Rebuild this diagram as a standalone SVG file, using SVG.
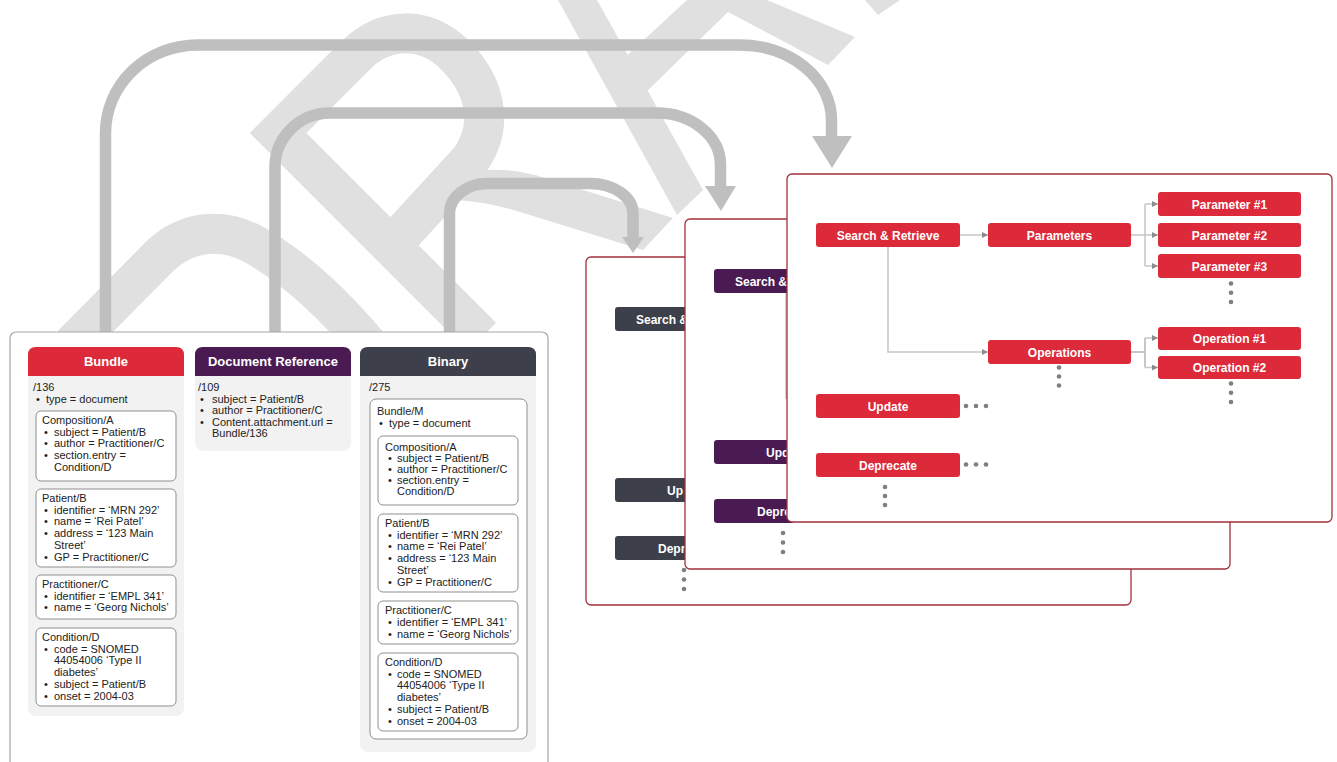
<svg xmlns="http://www.w3.org/2000/svg" width="1337" height="762" viewBox="0 0 1337 762">
<defs>
<style>
.wm{fill:none;stroke:#e0e0e0;stroke-linejoin:miter;stroke-width:40}
.wmf{fill:#e0e0e0}
.big{fill:none;stroke:#bfbfbf;stroke-width:11.5}
.bighead{fill:#bfbfbf}
.panel{fill:#fff;stroke:#a1303b;stroke-width:1.3}
.lp{fill:#fff;stroke:#a6a6a6;stroke-width:1.2}
.colbg{fill:#f2f2f2}
.card{fill:#fff;stroke:#8f8f8f;stroke-width:1}
.t{font-family:"Liberation Sans",Arial,sans-serif;font-size:11px;fill:#222}
.hd{font-family:"Liberation Sans",Arial,sans-serif;font-size:13px;font-weight:bold;fill:#fff;text-anchor:middle}
.bx{font-family:"Liberation Sans",Arial,sans-serif;font-size:12px;font-weight:bold;fill:#fff}
.c{text-anchor:middle}
.red{fill:#dc2a3a}
.pur{fill:#4a1b53}
.drk{fill:#3d404b}
.ln{fill:none;stroke:#c6c6c6;stroke-width:1.5}
.dot{fill:#7f7f7f}
</style>
<marker id="ah" viewBox="0 0 6 6" refX="6" refY="3" markerWidth="6" markerHeight="6" markerUnits="userSpaceOnUse" orient="auto">
<path d="M0,0 L6,3 L0,6 Z" fill="#8c8c8c"/>
</marker>
</defs>

<g id="watermark">
<path class="wm" d="M72,345 L160,256 C185,232 220,226 255,245 C295,268 330,300 368,345"/>
<path class="wm" d="M482,337 L278,133 L355,56 C385,26 425,26 455,55 C485,85 495,125 470,160 L391,246"/>
<path class="wmf" d="M458,174 C490,166 520,170 545,178 L673,218 L643,250 L520,212 C495,204 470,200 445,200 Z"/>
<polygon class="wmf" points="558,0 597,0 703,190 677,215"/>
<polygon class="wmf" points="620,62 687,0 767,0 855,37 828,65 728,12 640,98"/>
<polygon class="wmf" points="865,0 878,15 900,0"/>
</g>

<g id="connectors">
<path class="big" d="M105.5,333 V133 A92,88 0 0 1 197.5,45 H740 A91.5,75 0 0 1 831.5,120 V137"/>
<polygon class="bighead" points="812,136 852,136 832,168"/>
<path class="big" d="M275,333 V167 A55,54 0 0 1 330,113 H657 A63.5,52 0 0 1 720.5,165 V187"/>
<polygon class="bighead" points="705,186 736,186 721,211"/>
<path class="big" d="M449.5,333 V213 A38,30 0 0 1 487.5,183.5 H590 A43,30 0 0 1 633,213.5 V238"/>
<polygon class="bighead" points="622,237 644,237 633,253"/>
</g>

<g id="resources-panel">
<rect class="lp" x="10" y="332" width="538" height="445" rx="6"/>

<g id="bundle">
<rect class="colbg" x="28" y="347" width="156" height="369" rx="8"/>
<path class="red" d="M28,376 V355 Q28,347 36,347 H176 Q184,347 184,355 V376 Z"/>
<text class="hd" x="106" y="366">Bundle</text>
<text class="t" x="33" y="391">/136</text>
<text class="t" y="402.5"><tspan x="36">•</tspan><tspan x="46">type = document</tspan></text>
<rect class="card" x="36" y="411" width="140" height="70" rx="5"/>
<text class="t" x="42" y="424">Composition/A</text>
<text class="t" y="435.7"><tspan x="44">•</tspan><tspan x="54">subject = Patient/B</tspan></text>
<text class="t" y="447.4"><tspan x="44">•</tspan><tspan x="54">author = Practitioner/C</tspan></text>
<text class="t" y="459.1"><tspan x="44">•</tspan><tspan x="54">section.entry =</tspan></text>
<text class="t" x="54" y="470.8">Condition/D</text>
<rect class="card" x="36" y="489" width="140" height="78" rx="5"/>
<text class="t" x="42" y="502">Patient/B</text>
<text class="t" y="513.7"><tspan x="44">•</tspan><tspan x="54">identifier = ‘MRN 292’</tspan></text>
<text class="t" y="525.4"><tspan x="44">•</tspan><tspan x="54">name = ‘Rei Patel’</tspan></text>
<text class="t" y="537.1"><tspan x="44">•</tspan><tspan x="54">address = ‘123 Main</tspan></text>
<text class="t" x="54" y="548.8">Street’</text>
<text class="t" y="560.5"><tspan x="44">•</tspan><tspan x="54">GP = Practitioner/C</tspan></text>
<rect class="card" x="36" y="575" width="140" height="44" rx="5"/>
<text class="t" x="42" y="587.5">Practitioner/C</text>
<text class="t" y="599.5"><tspan x="44">•</tspan><tspan x="54">identifier = ‘EMPL 341’</tspan></text>
<text class="t" y="611.2"><tspan x="44">•</tspan><tspan x="54">name = ‘Georg Nichols’</tspan></text>
<rect class="card" x="36" y="628" width="140" height="78" rx="5"/>
<text class="t" x="42" y="641">Condition/D</text>
<text class="t" y="652.7"><tspan x="44">•</tspan><tspan x="54">code = SNOMED</tspan></text>
<text class="t" x="54" y="664.4">44054006 ‘Type II</text>
<text class="t" x="54" y="676.1">diabetes’</text>
<text class="t" y="687.8"><tspan x="44">•</tspan><tspan x="54">subject = Patient/B</tspan></text>
<text class="t" y="699.5"><tspan x="44">•</tspan><tspan x="54">onset = 2004-03</tspan></text>
</g>

<g id="docref">
<rect class="colbg" x="195" y="347" width="156" height="104" rx="8"/>
<path class="pur" d="M195,376 V355 Q195,347 203,347 H343 Q351,347 351,355 V376 Z"/>
<text class="hd" x="273" y="366">Document Reference</text>
<text class="t" x="198" y="391">/109</text>
<text class="t" y="402.5"><tspan x="200">•</tspan><tspan x="212">subject = Patient/B</tspan></text>
<text class="t" y="414"><tspan x="200">•</tspan><tspan x="212">author = Practitioner/C</tspan></text>
<text class="t" y="425.5"><tspan x="200">•</tspan><tspan x="212">Content.attachment.url =</tspan></text>
<text class="t" x="212" y="437">Bundle/136</text>
</g>

<g id="binary">
<rect class="colbg" x="360" y="347" width="176" height="405" rx="8"/>
<path class="drk" d="M360,376 V355 Q360,347 368,347 H528 Q536,347 536,355 V376 Z"/>
<text class="hd" x="448" y="366">Binary</text>
<text class="t" x="369" y="391">/275</text>
<rect class="card" x="370" y="399" width="157" height="340" rx="6"/>
<text class="t" x="377" y="415">Bundle/M</text>
<text class="t" y="426.5"><tspan x="379">•</tspan><tspan x="389">type = document</tspan></text>
<rect class="card" x="378" y="436" width="140" height="69" rx="5"/>
<text class="t" x="385" y="450.5">Composition/A</text>
<text class="t" y="461.7"><tspan x="388">•</tspan><tspan x="397">subject = Patient/B</tspan></text>
<text class="t" y="472.9"><tspan x="388">•</tspan><tspan x="397">author = Practitioner/C</tspan></text>
<text class="t" y="484.1"><tspan x="388">•</tspan><tspan x="397">section.entry =</tspan></text>
<text class="t" x="397" y="495.3">Condition/D</text>
<rect class="card" x="378" y="514" width="140" height="78" rx="5"/>
<text class="t" x="385" y="527">Patient/B</text>
<text class="t" y="538.7"><tspan x="388">•</tspan><tspan x="397">identifier = ‘MRN 292’</tspan></text>
<text class="t" y="550.4"><tspan x="388">•</tspan><tspan x="397">name = ‘Rei Patel’</tspan></text>
<text class="t" y="562.1"><tspan x="388">•</tspan><tspan x="397">address = ‘123 Main</tspan></text>
<text class="t" x="397" y="573.8">Street’</text>
<text class="t" y="585.5"><tspan x="388">•</tspan><tspan x="397">GP = Practitioner/C</tspan></text>
<rect class="card" x="378" y="601" width="140" height="43" rx="5"/>
<text class="t" x="385" y="614">Practitioner/C</text>
<text class="t" y="626"><tspan x="388">•</tspan><tspan x="397">identifier = ‘EMPL 341’</tspan></text>
<text class="t" y="637.5"><tspan x="388">•</tspan><tspan x="397">name = ‘Georg Nichols’</tspan></text>
<rect class="card" x="378" y="653" width="140" height="78" rx="5"/>
<text class="t" x="385" y="666">Condition/D</text>
<text class="t" y="677.7"><tspan x="388">•</tspan><tspan x="397">code = SNOMED</tspan></text>
<text class="t" x="397" y="689.4">44054006 ‘Type II</text>
<text class="t" x="397" y="701.1">diabetes’</text>
<text class="t" y="712.8"><tspan x="388">•</tspan><tspan x="397">subject = Patient/B</tspan></text>
<text class="t" y="724.5"><tspan x="388">•</tspan><tspan x="397">onset = 2004-03</tspan></text>
</g>
</g>

<g id="panel-back">
<rect class="panel" x="586" y="257" width="545" height="348" rx="5"/>
<rect class="drk" x="615" y="307" width="80" height="24" rx="3"/>
<text class="bx" x="636" y="323.5">Search &amp;</text>
<rect class="drk" x="615" y="478" width="80" height="24" rx="3"/>
<text class="bx" x="667" y="494.5">Up</text>
<rect class="drk" x="615" y="536" width="80" height="24" rx="3"/>
<text class="bx" x="658" y="552.5">Depr</text>
<circle class="dot" cx="684" cy="570" r="2.3"/>
<circle class="dot" cx="684" cy="579.5" r="2.3"/>
<circle class="dot" cx="684" cy="589" r="2.3"/>
</g>

<g id="panel-middle">
<rect class="panel" x="685" y="219" width="545" height="350" rx="5"/>
<path class="ln" d="M786,293 V398 H796"/>
<rect class="pur" x="714" y="269" width="80" height="24" rx="3"/>
<text class="bx" x="735" y="285.5">Search &amp;</text>
<rect class="pur" x="714" y="440" width="80" height="24" rx="3"/>
<text class="bx" x="766" y="456.5">Upd</text>
<rect class="pur" x="714" y="499" width="80" height="24" rx="3"/>
<text class="bx" x="757" y="515.5">Depre</text>
<circle class="dot" cx="783" cy="533" r="2.3"/>
<circle class="dot" cx="783" cy="542.5" r="2.3"/>
<circle class="dot" cx="783" cy="552" r="2.3"/>
</g>

<g id="panel-front">
<rect class="panel" x="787" y="174" width="545" height="348" rx="5"/>
<g id="front-connectors">
<path class="ln" d="M960,235 H988" marker-end="url(#ah)"/>
<path class="ln" d="M1131,235 H1145 M1145,204 V266"/>
<path class="ln" d="M1145,204 H1158" marker-end="url(#ah)"/>
<path class="ln" d="M1145,235 H1158" marker-end="url(#ah)"/>
<path class="ln" d="M1145,266 H1158" marker-end="url(#ah)"/>
<path class="ln" d="M888,247 V352 H988" marker-end="url(#ah)"/>
<path class="ln" d="M1131,352 H1145 M1145,338 V367.5" style="stroke:#b5b5b5"/>
<path class="ln" d="M1145,338 H1158" marker-end="url(#ah)"/>
<path class="ln" d="M1145,367.5 H1158" marker-end="url(#ah)"/>
</g>
<g id="search-retrieve"><rect class="red" x="816" y="223" width="144" height="24" rx="3"/><text class="bx c" x="888" y="239.5">Search &amp; Retrieve</text></g>
<g id="parameters"><rect class="red" x="988" y="223" width="143" height="24" rx="3"/><text class="bx c" x="1059.5" y="239.5">Parameters</text></g>
<g id="param1"><rect class="red" x="1158" y="192" width="143" height="24" rx="3"/><text class="bx c" x="1229.5" y="208.5">Parameter #1</text></g>
<g id="param2"><rect class="red" x="1158" y="223" width="143" height="24" rx="3"/><text class="bx c" x="1229.5" y="239.5">Parameter #2</text></g>
<g id="param3"><rect class="red" x="1158" y="254" width="143" height="24" rx="3"/><text class="bx c" x="1229.5" y="270.5">Parameter #3</text></g>
<g id="operations"><rect class="red" x="988" y="340" width="143" height="24" rx="3"/><text class="bx c" x="1059.5" y="356.5">Operations</text></g>
<g id="op1"><rect class="red" x="1158" y="327" width="143" height="23" rx="3"/><text class="bx c" x="1229.5" y="343">Operation #1</text></g>
<g id="op2"><rect class="red" x="1158" y="356" width="143" height="23" rx="3"/><text class="bx c" x="1229.5" y="372">Operation #2</text></g>
<g id="update"><rect class="red" x="816" y="394" width="144" height="24" rx="3"/><text class="bx c" x="888" y="410.5">Update</text></g>
<g id="deprecate"><rect class="red" x="816" y="453" width="144" height="24" rx="3"/><text class="bx c" x="888" y="469.5">Deprecate</text></g>
<g id="dots">
<circle class="dot" cx="1231" cy="283.5" r="2.3"/><circle class="dot" cx="1231" cy="292.8" r="2.3"/><circle class="dot" cx="1231" cy="302" r="2.3"/>
<circle class="dot" cx="1059" cy="367.5" r="2.3"/><circle class="dot" cx="1059" cy="376.5" r="2.3"/><circle class="dot" cx="1059" cy="385.5" r="2.3"/>
<circle class="dot" cx="1231" cy="383.5" r="2.3"/><circle class="dot" cx="1231" cy="392.8" r="2.3"/><circle class="dot" cx="1231" cy="402" r="2.3"/>
<circle class="dot" cx="966" cy="406" r="2.3"/><circle class="dot" cx="976" cy="406" r="2.3"/><circle class="dot" cx="986" cy="406" r="2.3"/>
<circle class="dot" cx="966" cy="464.5" r="2.3"/><circle class="dot" cx="976" cy="464.5" r="2.3"/><circle class="dot" cx="986" cy="464.5" r="2.3"/>
<circle class="dot" cx="885" cy="487" r="2.3"/><circle class="dot" cx="885" cy="496" r="2.3"/><circle class="dot" cx="885" cy="505" r="2.3"/>
</g>
</g>
</svg>
